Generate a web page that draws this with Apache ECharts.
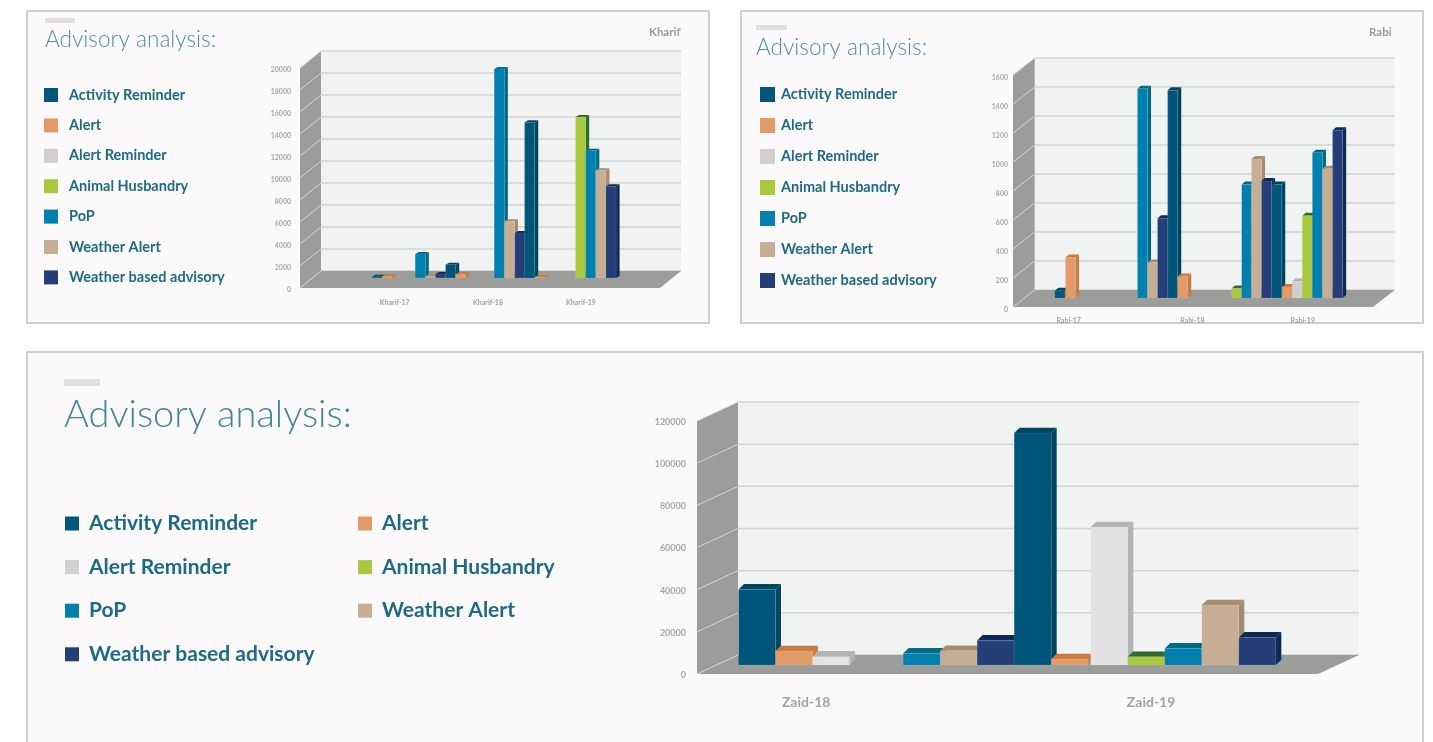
<!DOCTYPE html>
<html>
<head>
<meta charset="utf-8">
<title>Advisory analysis</title>
<script src="https://cdn.jsdelivr.net/npm/echarts@6/dist/echarts.min.js"></script>
<style>
  html, body { margin: 0; padding: 0; background: #fff; overflow: hidden; }
  #chart { width: 1433px; height: 742px; }
</style>
</head>
<body>
<div id="chart"></div>
<script>
  const seriesNames = ['Activity Reminder', 'Alert', 'Alert Reminder', 'Animal Husbandry', 'PoP', 'Weather Alert', 'Weather based advisory']

  // kharif: slot on the x axis, which series the bar belongs to, its value
  const kharifSlots = [0, 1, 4.27, 5.27, 6.27, 7.27, 8.25, 12.07, 13.07, 14.1, 15.07, 16.1, 20.1, 21.1, 22.1, 23.1]
  const kharifKinds = [0, 1, 4, 5, 6, 0, 1, 4, 5, 6, 0, 1, 3, 4, 5, 6]
  const kharifValues = [120, 150, 2180, 150, 360, 1210, 330, 19000, 5150, 4090, 14150, 90, 14630, 11570, 9790, 8330]
  const kharifTicks = [0, 2000, 4000, 6000, 8000, 10000, 12000, 14000, 16000, 18000, 20000]
  const kharifLabels = ['Kharif-17', 'Kharif-18', 'Kharif-19']
  const kharifLabelSlots = [3.47, 12.68, 21.86]

  const rabiSlots = [0, 1.05, 8.18, 9.18, 10.17, 11.17, 12.16, 17.5, 18.5, 19.47, 20.46, 21.47, 22.5, 23.5, 24.5, 25.5, 26.5, 27.5]
  const rabiKinds = [0, 1, 4, 5, 6, 0, 1, 3, 4, 5, 6, 0, 1, 2, 3, 4, 5, 6]
  const rabiValues = [50, 280, 1443, 245, 550, 1432, 149, 66, 783, 958, 806, 783, 76, 115, 568, 1001, 891, 1157]
  const rabiTicks = [0, 200, 400, 600, 800, 1000, 1200, 1400, 1600]
  const rabiLabels = ['Rabi-17', 'Rabi-18', 'Rabi-19']
  const rabiLabelSlots = [2.51, 14.76, 25.68]

  const zaidSlots = [0, 1, 2, 4.45, 5.45, 6.45, 7.45, 8.45, 9.52, 10.52, 11.52, 12.52, 13.52]
  const zaidKinds = [0, 1, 2, 4, 5, 6, 0, 1, 2, 3, 4, 5, 6]
  const zaidValues = [35890, 6640, 4110, 5530, 6800, 11700, 110040, 2850, 65450, 3950, 7900, 28460, 13120]
  const zaidTicks = [0, 20000, 40000, 60000, 80000, 100000, 120000]
  const zaidLabels = ['Zaid-18', 'Zaid-19']
  const zaidLabelSlots = [2.35, 11.67]

  const legendColors = ['#00567a', '#e29a66', '#d0cece', '#a9c83d', '#0080ae', '#c6ae94', '#243f78']
  const sideColors = ['#01465f', '#c87a3f', '#b3b3b3', '#2f6b2e', '#006a84', '#a58c71', '#0c2a55']

  const textFont = 'Lato, "Noto Sans", sans-serif'

  const kharif = {
    slots: kharifSlots, kinds: kharifKinds, values: kharifValues, ticks: kharifTicks,
    labels: kharifLabels, labelSlots: kharifLabelSlots,
    grid: {left: 300, top: 68, width: 360, height: 220},
    xMin: -5.88, xMax: 29.66,
    depth: [21, -17], plane: 0.59, bar: [3.5, -2],
    tickFont: 7, tickMargin: 9, tickShift: 3, labelFont: 7, labelMargin: 11,
    front: legendColors
  }
  const rabi = {
    slots: rabiSlots, kinds: rabiKinds, values: rabiValues, ticks: rabiTicks,
    labels: rabiLabels, labelSlots: rabiLabelSlots,
    grid: {left: 1013, top: 75, width: 360, height: 232},
    xMin: -3, xMax: 32.64,
    depth: [21.7, -17], plane: 0.53, bar: [3.5, -3],
    tickFont: 7, tickMargin: 5, tickShift: 6, labelFont: 7, labelMargin: 10,
    front: legendColors
  }
  const zaid = {
    slots: zaidSlots, kinds: zaidKinds, values: zaidValues, ticks: zaidTicks,
    labels: zaidLabels, labelSlots: zaidLabelSlots,
    grid: {left: 697, top: 421, width: 621, height: 253},
    xMin: -0.6, xMax: 16.18,
    depth: [41, -19], plane: 0.47, bar: [5.5, -5.3],
    tickFont: 9, tickMargin: 11, tickShift: 2, labelFont: 14, labelMargin: 21,
    front: ['#00567a', '#e29a66', '#e3e1e2', '#a9c83d', '#0080ae', '#c6ae94', '#243f78']
  }
  const charts = [kharif, rabi, zaid]

  // walls and floor of the box, one group under everything else
  function roomSeries (c, index) {
    const yMax = c.ticks[c.ticks.length - 1]
    return {
      type: 'custom',
      xAxisIndex: index,
      yAxisIndex: index,
      z: 1,
      silent: true,
      data: [[c.xMin, 0]],
      encode: {x: 0, y: 1},
      renderItem (params, api) {
        const [dx, dy] = c.depth
        const a = api.coord([c.xMin, 0])
        const b = api.coord([c.xMax, 0])
        const t = api.coord([c.xMin, yMax])
        return {
          type: 'group',
          children: [
            {type: 'rect', shape: {x: a[0] + dx, y: t[1] + dy, width: b[0] - a[0], height: a[1] - t[1]}, style: {fill: '#f1f3f2'}},
            {type: 'polygon', shape: {points: [t, [t[0] + dx, t[1] + dy], [a[0] + dx, a[1] + dy], a]}, style: {fill: '#9c9c9a'}},
            {type: 'polygon', shape: {points: [a, b, [b[0] + dx, b[1] + dy], [a[0] + dx, a[1] + dy]]}, style: {fill: '#9c9c9a'}, z2: 2}
          ]
        }
      }
    }
  }

  // one line per tick: along the back wall and across the side wall
  function tickSeries (c, index) {
    return {
      type: 'custom',
      xAxisIndex: index,
      yAxisIndex: index,
      z: 1,
      silent: true,
      data: c.ticks.map(t => [c.xMin, t]),
      encode: {x: 0, y: 1},
      renderItem (params, api) {
        const [dx, dy] = c.depth
        const v = api.value(1)
        const p = api.coord([c.xMin, v])
        const q = api.coord([c.xMax, v])
        return {
          type: 'group',
          children: [
            {type: 'line', z2: 1, shape: {x1: p[0] + dx, y1: p[1] + dy, x2: q[0] + dx, y2: q[1] + dy}, style: {stroke: '#d2d4d3', lineWidth: 1.5}},
            {type: 'line', z2: 3, shape: {x1: p[0], y1: p[1], x2: p[0] + dx, y2: p[1] + dy}, style: {stroke: '#d6d6d6', lineWidth: 1}}
          ]
        }
      }
    }
  }

  function barSeries (c, index, kind) {
    const data = []
    c.slots.forEach((slot, i) => {
      if (c.kinds[i] === kind) data.push([slot, c.values[i]])
    })
    return {
      name: seriesNames[kind],
      type: 'custom',
      xAxisIndex: index,
      yAxisIndex: index,
      z: 2,
      silent: true,
      itemStyle: {color: legendColors[kind]},
      data: data,
      encode: {x: 0, y: 1},
      renderItem (params, api) {
        const slot = api.value(0)
        const base = api.coord([slot, 0])
        const top = api.coord([slot + 1, api.value(1)])
        const sx = c.depth[0] * c.plane
        const sy = c.depth[1] * c.plane
        const x0 = base[0] + sx
        const x1 = top[0] + sx
        const yb = base[1] + sy
        const yt = top[1] + sy
        const [bx, by] = c.bar
        // later slots paint over the side face of earlier ones
        const order = Math.round(slot * 100)
        return {
          type: 'group',
          children: [
            {type: 'polygon', z2: order, shape: {points: [[x1, yt], [x1 + bx, yt + by], [x1 + bx, yb + by], [x1, yb]]}, style: {fill: sideColors[kind]}},
            {type: 'polygon', z2: order, shape: {points: [[x0, yt], [x0 + bx, yt + by], [x1 + bx, yt + by], [x1, yt]]}, style: {fill: sideColors[kind]}},
            {type: 'rect', z2: order + 1, shape: {x: x0, y: yt, width: x1 - x0, height: yb - yt}, style: {fill: c.front[kind], stroke: 'rgba(255,255,255,0.18)', lineWidth: 0.5}}
          ]
        }
      }
    }
  }

  function legendAt (names, left, top, size, gap, iconW, iconH, iconGap) {
    return {
      data: names,
      orient: 'vertical',
      left: left,
      top: top,
      icon: 'rect',
      itemWidth: iconW,
      itemHeight: iconH,
      itemGap: gap,
      padding: 0,
      selectedMode: false,
      textStyle: {fontFamily: textFont, fontSize: size, fontWeight: 700, color: '#1d6a85', padding: [0, 0, 0, iconGap], lineHeight: iconH}
    }
  }

  function titleAt (text, left, top, size, color, weight) {
    return {
      text: text,
      left: left,
      top: top,
      padding: 0,
      textStyle: {fontFamily: textFont, fontSize: size, fontWeight: weight, color: color}
    }
  }

  function panel (x, y, width, height) {
    return {type: 'rect', shape: {x, y, width, height}, style: {fill: '#fbf9fa', stroke: '#cfcfcf', lineWidth: 2}, silent: true, z: -2}
  }

  function dash (x, y, width, height) {
    return {type: 'rect', shape: {x, y, width, height}, style: {fill: '#e0dede'}, silent: true, z: -1}
  }

  const option = {
    animation: false,
    backgroundColor: '#fff',
    graphic: [
      panel(27, 11, 682, 312), panel(741, 11, 682, 312), panel(27, 352, 1396, 420),
      dash(45, 18, 30, 5), dash(756, 25, 31, 5), dash(64, 379, 36, 7)
    ],
    title: [
      titleAt('Advisory analysis:', 45, 28, 22.6, '#4f8ea8', 300),
      titleAt('Advisory analysis:', 756, 36, 22.6, '#4f8ea8', 300),
      titleAt('Advisory analysis:', 64, 396, 38, '#3f84a0', 300),
      titleAt('Kharif', 649, 26, 11.5, '#9a9a9a', 700),
      titleAt('Rabi', 1369, 26, 11.5, '#9a9a9a', 700)
    ],
    legend: [
      legendAt(seriesNames, 44, 87.5, 14.5, 15.4, 14, 14, 6),
      legendAt(seriesNames, 760, 87, 14.5, 16, 15, 15, 1),
      legendAt(['Activity Reminder', 'Alert Reminder', 'PoP', 'Weather based advisory'], 65, 513, 21, 22.6, 14, 14, 5),
      legendAt(['Alert', 'Animal Husbandry', 'Weather Alert'], 358, 513, 21, 22.6, 14, 14, 5)
    ],
    grid: charts.map(c => c.grid),
    xAxis: charts.map((c, i) => ({
      type: 'value',
      gridIndex: i,
      min: c.xMin,
      max: c.xMax,
      axisLine: {show: false},
      axisTick: {show: false},
      splitLine: {show: false},
      axisLabel: {
        customValues: c.labelSlots,
        margin: c.labelMargin,
        fontFamily: textFont,
        fontSize: c.labelFont,
        fontWeight: 700,
        color: '#a3a3a3',
        formatter: v => c.labels[c.labelSlots.indexOf(v)]
      }
    })),
    yAxis: charts.map((c, i) => ({
      type: 'value',
      gridIndex: i,
      min: 0,
      max: c.ticks[c.ticks.length - 1],
      interval: c.ticks[1],
      axisLine: {show: false},
      axisTick: {show: false},
      splitLine: {show: false},
      axisLabel: {
        margin: c.tickMargin,
        formatter: v => '{t|' + v + '}',
        rich: {
          t: {
            padding: [c.tickShift, 0, 0, 0],
            fontFamily: textFont,
            fontSize: c.tickFont,
            fontWeight: 700,
            color: '#a8a8a8'
          }
        }
      }
    })),
    series: []
  }

  charts.forEach((c, i) => {
    option.series.push(roomSeries(c, i), tickSeries(c, i))
    seriesNames.forEach((name, kind) => option.series.push(barSeries(c, i, kind)))
  })

  const chart = echarts.init(document.getElementById('chart'))
  chart.setOption(option)
</script>
</body>
</html>
